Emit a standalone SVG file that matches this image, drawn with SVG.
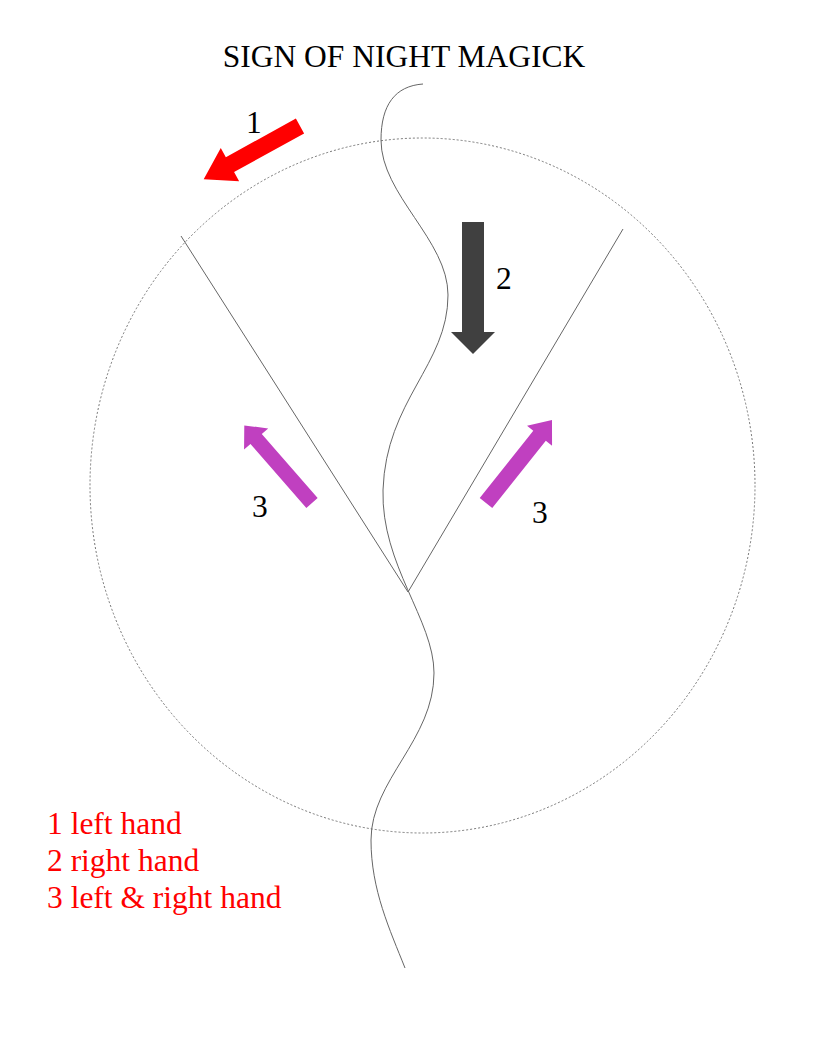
<svg xmlns="http://www.w3.org/2000/svg" width="816" height="1056" viewBox="0 0 816 1056">
<style>
.t{font-family:"Liberation Serif","Times New Roman",serif;font-size:31.5px;fill:#000}
.leg{font-family:"Liberation Serif","Times New Roman",serif;font-size:31.5px;fill:#ff0000}
.ln{fill:none;stroke:#666;stroke-width:1}
</style>
<rect width="816" height="1056" fill="#fff"/>
<text class="t" x="404" y="67" text-anchor="middle">SIGN OF NIGHT MAGICK</text>
<g id="circle"><ellipse cx="422.5" cy="485.5" rx="332.5" ry="347.5" fill="none" stroke="#777" stroke-width="1" stroke-dasharray="2,2"/></g>
<g id="vee"><polyline class="ln" points="181,236 408,592 623,229"/></g>
<g id="wave"><path class="ln" d="M423,84 C395,86 381,105 381,140 C381,195 448,240 448,295 C448,365 386,400 383,490 C381,565 434,620 434,673 C434,740 371,780 371,840 C371,890 390,930 405,968"/></g>
<g id="connectors">
<polygon id="arrow1" fill="#ff0000" transform="translate(300,126) rotate(151.1)" points="0,-8.5 80,-8.5 80,-19 110,0 80,19 80,8.5 0,8.5"/>
<polygon id="arrow2" fill="#404040" points="462,222 484,222 484,332 495,332 473,354 451,332 462,332"/>
<polygon id="arrow3a" fill="#c040c0" transform="translate(312,503) rotate(-131.1)" points="0,-7.5 85,-7.5 85,-16 103,0 85,16 85,7.5 0,7.5"/>
<polygon id="arrow3b" fill="#c040c0" transform="translate(486,503) rotate(-51.5)" points="0,-8 86,-8 86,-16 106,0 86,16 86,8 0,8"/>
</g>
<g id="labels">
<text class="t" x="246" y="133">1</text>
<text class="t" x="496" y="289">2</text>
<text class="t" x="252" y="517">3</text>
<text class="t" x="532" y="523">3</text>
</g>
<g id="legend">
<text class="leg" x="47" y="834">1 left hand</text>
<text class="leg" x="47" y="871">2 right hand</text>
<text class="leg" x="47" y="908">3 left &amp; right hand</text>
</g>
</svg>
